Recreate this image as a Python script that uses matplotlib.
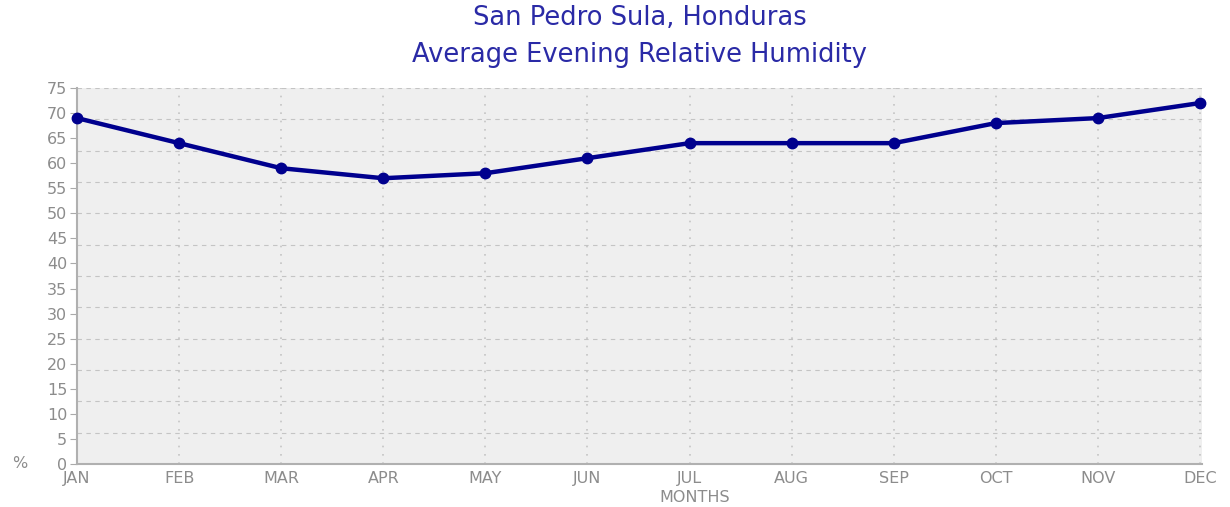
import matplotlib
matplotlib.use("Agg")
import matplotlib.pyplot as plt
import numpy as np

months = ["JAN", "FEB", "MAR", "APR", "MAY", "JUN", "JUL", "AUG", "SEP", "OCT", "NOV", "DEC"]
humidity = [69, 64, 59, 57, 58, 61, 64, 64, 64, 68, 69, 72]
y_ticks = list(range(0, 80, 5))

plt.rcParams['font.family'] = ['DejaVu Sans']

fig = plt.figure(figsize=(12.3, 5.07), dpi=100)
ax = fig.add_axes([77 / 1230, 1 - 464 / 507, (1202 - 77) / 1230, (464 - 88) / 507])
ax.set_facecolor('#efefef')

x = np.arange(len(months))
ax.plot(x, humidity, color='#00008e', linewidth=3.2, marker='o', markersize=7.5, clip_on=False, zorder=3)

ax.set_xlim(0, len(months) - 1 + 0.02)
ax.set_ylim(0, 75)
ax.set_xticks(x)
ax.set_xticklabels(months)
ax.set_yticks(y_ticks)

# horizontal grid at 1/12 of range, vertical grid at each month
for gy in np.arange(6.25, 75.01, 6.25):
    ax.axhline(gy, color='#c4c4c4', linestyle=(0, (4, 4)), linewidth=0.8, zorder=1)
for gx in x[1:]:
    ax.axvline(gx, color='#c4c4c4', linestyle=(0, (1, 4)), linewidth=1.2, zorder=1)

for side in ['top', 'right']:
    ax.spines[side].set_visible(False)
for side in ['left', 'bottom']:
    ax.spines[side].set_color('#b0b0b0')
    ax.spines[side].set_linewidth(1.5)

ax.tick_params(axis='y', colors='#aaaaaa', labelsize=11.5, length=5, pad=2, labelcolor='#8c8c8c')
ax.tick_params(axis='x', colors='#aaaaaa', labelsize=11.5, length=0, pad=5, labelcolor='#8c8c8c')

ax.text(-0.044, 0, '%', transform=ax.transAxes, color='#8c8c8c', fontsize=11.5, ha='right', va='center')
ax.set_xlabel('MONTHS', color='#8c8c8c', fontsize=11.5, va='center')
ax.xaxis.set_label_coords((695 - 77) / 1125, (464 - 498) / 376)

fig.text(0.52, 1 - 18 / 507, 'San Pedro Sula, Honduras', color='#2a2aa6', fontsize=18.5, ha='center', va='center')
fig.text(0.52, 1 - 55 / 507, 'Average Evening Relative Humidity', color='#2a2aa6', fontsize=18.5, ha='center', va='center')

fig.savefig('out.png', dpi=100)
